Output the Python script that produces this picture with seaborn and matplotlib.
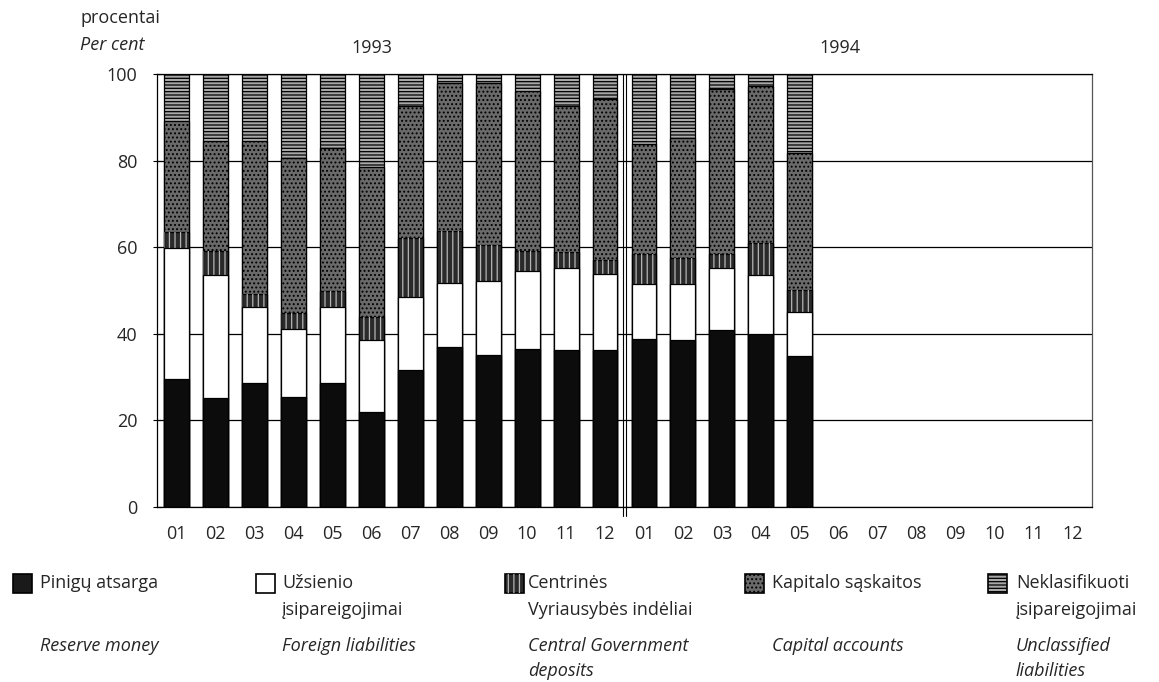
import numpy as np
import pandas as pd
import matplotlib
matplotlib.use("Agg")
import matplotlib.pyplot as plt
from matplotlib.patches import Rectangle
import seaborn as sns

# months with data (1993-01 .. 1994-05), axis runs to 1994-12
periods = ["1993-01", "1993-02", "1993-03", "1993-04", "1993-05", "1993-06",
           "1993-07", "1993-08", "1993-09", "1993-10", "1993-11", "1993-12",
           "1994-01", "1994-02", "1994-03", "1994-04", "1994-05"]
month_labels = ["01", "02", "03", "04", "05", "06", "07", "08", "09", "10", "11", "12"] * 2

reserve_money = [29.5, 25.1, 28.6, 25.3, 28.6, 21.9, 31.6, 36.9, 35.0, 36.6, 36.2, 36.2,
                 38.9, 38.5, 40.8, 40.0, 34.8]
foreign_liab = [30.2, 28.4, 17.5, 15.9, 17.7, 16.6, 16.8, 14.9, 17.3, 18.0, 19.1, 17.7,
                12.7, 13.1, 14.5, 13.5, 10.2]
gov_deposits = [3.7, 5.7, 3.2, 3.7, 3.7, 5.3, 13.8, 12.0, 8.1, 4.6, 3.5, 3.1,
                6.9, 5.8, 3.2, 7.5, 5.2]
capital_acc = [25.8, 25.4, 35.3, 35.7, 32.9, 34.8, 30.4, 34.1, 37.6, 36.8, 33.8, 37.2,
               25.4, 27.8, 38.0, 36.2, 31.6]
unclassified = [10.8, 15.4, 15.4, 19.4, 17.1, 21.4, 7.4, 2.1, 2.0, 4.0, 7.4, 5.8,
                16.1, 14.8, 3.5, 2.8, 18.2]

df = pd.DataFrame({"period": periods, "reserve": reserve_money, "foreign": foreign_liab,
                   "gov": gov_deposits, "capital": capital_acc, "uncl": unclassified})
df["c1"] = df["reserve"]
df["c2"] = df["c1"] + df["foreign"]
df["c3"] = df["c2"] + df["gov"]
df["c4"] = df["c3"] + df["capital"]
df["c5"] = df["c4"] + df["uncl"]

sns.set_style("white")
plt.rcParams["font.family"] = ["Open Sans", "DejaVu Sans"]
plt.rcParams["hatch.linewidth"] = 0.9

fig = plt.figure(figsize=(11.59, 6.82), dpi=100)
ax = fig.add_axes([157 / 1159, 1 - 507 / 682, (1092 - 157) / 1159, (507 - 74) / 682])

W = 0.64
common = dict(x="period", order=periods, width=W, errorbar=None, saturation=1, ax=ax)

# top layer first, each lower cumulative layer painted over it
sns.barplot(data=df, y="c5", color="#a8a8a8", edgecolor="black", linewidth=0.9,
            hatch="-----", **common)
sns.barplot(data=df, y="c4", color="#6a6a6a", edgecolor="black", linewidth=0.9,
            hatch="....", **common)
sns.barplot(data=df, y="c3", color="#2a2a2a", edgecolor="black", linewidth=0.9, **common)
sns.barplot(data=df, y="c3", color="#b5b5b5", edgecolor="#b5b5b5", linewidth=0,
            fill=False, hatch="|||", **common)
sns.barplot(data=df, y="c2", color="white", edgecolor="black", linewidth=0.9, **common)
sns.barplot(data=df, y="c1", color="#0c0c0c", edgecolor="black", linewidth=0.9, **common)

FS = 13
ax.set_xlim(-0.5, 23.5)
ax.set_ylim(0, 100)
ax.set_xticks(np.arange(24))
ax.set_xticklabels(month_labels, fontsize=FS)
ax.set_yticks([0, 20, 40, 60, 80, 100])
ax.set_yticklabels(["0", "20", "40", "60", "80", "100"], fontsize=FS)
ax.tick_params(axis="x", length=0, pad=13)
ax.tick_params(axis="y", length=6, direction="inout", width=0.8, color="black", pad=11,
               left=True)
ax.set_xlabel("")
ax.set_ylabel("")
ax.set_axisbelow(True)
ax.yaxis.grid(True, color="black", linewidth=0.9)
for s in ["left", "bottom", "top", "right"]:
    ax.spines[s].set_visible(True)
    ax.spines[s].set_color("black")
    ax.spines[s].set_linewidth(0.9)
ax.spines["right"].set_color("#555555")

# year separator
for dx in (-0.05, 0.05):
    ax.axvline(11.5 + dx, ymin=-0.02, ymax=1, color="black", linewidth=0.8,
               clip_on=False, zorder=5)

# header texts
fig.text(80 / 1159, 1 - 18 / 682, "procentai", fontsize=FS, va="center", ha="left")
fig.text(80 / 1159, 1 - 45 / 682, "Per cent", fontsize=FS, style="italic",
         va="center", ha="left")
fig.text(372 / 1159, 1 - 48 / 682, "1993", fontsize=FS, va="center", ha="center")
fig.text(840 / 1159, 1 - 48 / 682, "1994", fontsize=FS, va="center", ha="center")

# legend
legend_items = [
    (13, 40, "Pinigų atsarga", "", "Reserve money", "",
     dict(facecolor="#1a1a1a"), None),
    (256, 282, "Užsienio", "įsipareigojimai", "Foreign liabilities", "",
     dict(facecolor="white"), None),
    (505, 528, "Centrinės", "Vyriausybės indėliai", "Central Government", "deposits",
     dict(facecolor="#2a2a2a"), "|||"),
    (745, 772, "Kapitalo sąskaitos", "", "Capital accounts", "",
     dict(facecolor="#6a6a6a", hatch="...."), None),
    (988, 1016, "Neklasifikuoti", "įsipareigojimai", "Unclassified", "liabilities",
     dict(facecolor="#a8a8a8", hatch="-----"), None),
]
sq = 19
for sx, tx, lt1, lt2, en1, en2, style, over in legend_items:
    r = Rectangle((sx / 1159, 1 - (583 + sq / 2) / 682), sq / 1159, sq / 682,
                  transform=fig.transFigure, edgecolor="black", linewidth=1.2, **style)
    fig.add_artist(r)
    if over:
        fig.add_artist(Rectangle((sx / 1159, 1 - (583 + sq / 2) / 682), sq / 1159, sq / 682,
                                 transform=fig.transFigure, facecolor="none",
                                 edgecolor="#b5b5b5", linewidth=0, hatch=over))
    fig.text(tx / 1159, 1 - 583 / 682, lt1, fontsize=FS, va="center", ha="left")
    if lt2:
        fig.text(tx / 1159, 1 - 610 / 682, lt2, fontsize=FS, va="center", ha="left")
    fig.text(tx / 1159, 1 - 646 / 682, en1, fontsize=FS, style="italic",
             va="center", ha="left")
    if en2:
        fig.text(tx / 1159, 1 - 671 / 682, en2, fontsize=FS, style="italic",
                 va="center", ha="left")

fig.savefig("out.png", dpi=100)
